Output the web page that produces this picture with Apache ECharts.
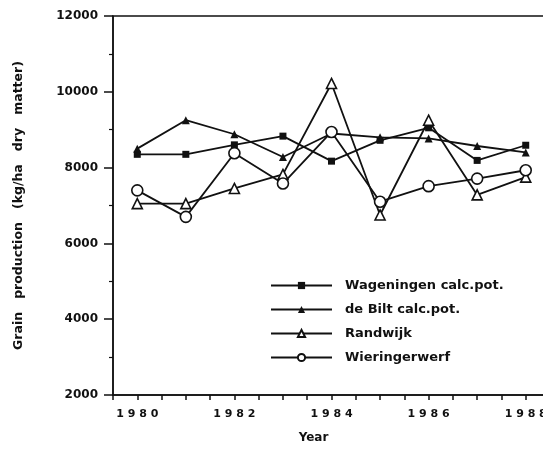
<!DOCTYPE html>
<html>
<head>
<meta charset="utf-8">
<script src="https://cdn.jsdelivr.net/npm/echarts@6/dist/echarts.min.js"></script>
<style>
    html, body { margin: 0; padding: 0; background: #fff; }
    #chart { width: 543px; height: 450px; }
</style>
</head>
<body>
<div id="chart"></div>
<script>
// Grain production per year, kg/ha dry matter
const years = [1980, 1981, 1982, 1983, 1984, 1985, 1986, 1987, 1988];
const wageningen = [8350, 8350, 8600, 8830, 8170, 8720, 9050, 8190, 8590];
const deBilt = [8500, 9250, 8880, 8280, 8900, 8800, 8770, 8570, 8400];
const randwijk = [7050, 7050, 7450, 7820, 10220, 6750, 9250, 7280, 7750];
const wieringerwerf = [7400, 6700, 8380, 7580, 8940, 7100, 7510, 7710, 7930];

const FONT = 'DejaVu Sans';
const INK = '#111';

const pairs = vals => years.map((y, i) => [y, vals[i]]);

function lineSeries(name, vals, symbol, size, filled) {
    return {
        name,
        type: 'line',
        data: pairs(vals),
        symbol,
        symbolSize: size,
        showAllSymbol: true,
        clip: false,
        lineStyle: { color: INK, width: 1.8 },
        itemStyle: {
            color: filled ? INK : '#fff',
            borderColor: INK,
            borderWidth: filled ? 0 : 1.6
        },
        emphasis: { disabled: true },
        animation: false
    };
}

const chart = echarts.init(document.getElementById('chart'));

chart.setOption({
    backgroundColor: '#fff',
    grid: {
        left: 113, top: 16, right: -7, bottom: 55,
        outerBoundsMode: 'none',
        show: true, borderColor: INK, borderWidth: 1.5,
        backgroundColor: 'transparent'
    },
    legend: {
        orient: 'vertical',
        left: 265,
        top: 274,
        itemWidth: 61,
        itemHeight: 9,
        itemGap: 11,
        selectedMode: false,
        textStyle: {
            fontFamily: FONT, fontWeight: 'bold', fontSize: 13,
            color: INK, padding: [0, 0, 0, 8]
        },
        data: ['Wageningen calc.pot.', 'de Bilt calc.pot.', 'Randwijk', 'Wieringerwerf']
    },
    xAxis: {
        type: 'value',
        min: 1979.5,
        max: 1988.5,
        interval: 0.5,
        name: 'Year',
        nameLocation: 'middle',
        nameGap: 37,
        nameTextStyle: {
            fontFamily: FONT, fontWeight: 'bold', fontSize: 12,
            color: INK, padding: [0, 36, 0, 0]
        },
        axisLine: { lineStyle: { color: INK, width: 1.5 } },
        axisTick: { length: 5, lineStyle: { color: INK, width: 1.5 } },
        splitLine: { show: false },
        axisLabel: {
            fontFamily: FONT, fontWeight: 'bold', fontSize: 11, color: INK, margin: 14,
            showMinLabel: true, showMaxLabel: true,
            formatter: v => (v % 2 === 0 ? String(v).split('').join(' ') : '')
        }
    },
    yAxis: {
        type: 'value',
        min: 2000,
        max: 12000,
        interval: 2000,
        name: 'Grain   production   (kg/ha   dry   matter)',
        nameLocation: 'middle',
        nameGap: 88,
        nameTextStyle: { fontFamily: FONT, fontWeight: 'bold', fontSize: 12.5, color: INK },
        axisLine: { show: true, lineStyle: { color: INK, width: 1.5 } },
        axisTick: { show: true, length: 9, lineStyle: { color: INK, width: 1.5 } },
        minorTick: { show: true, splitNumber: 2, length: 4, lineStyle: { color: INK, width: 1.2 } },
        splitLine: { show: false },
        axisLabel: {
            fontFamily: FONT, fontWeight: 'bold', fontSize: 12, color: INK, margin: 15,
            formatter: v => String(v)
        }
    },
    series: [
        lineSeries('Wageningen calc.pot.', wageningen, 'rect', 7, true),
        lineSeries('de Bilt calc.pot.', deBilt, 'triangle', 8, true),
        lineSeries('Randwijk', randwijk, 'triangle', 10, false),
        lineSeries('Wieringerwerf', wieringerwerf, 'circle', 11, false)
    ]
});
</script>
</body>
</html>
